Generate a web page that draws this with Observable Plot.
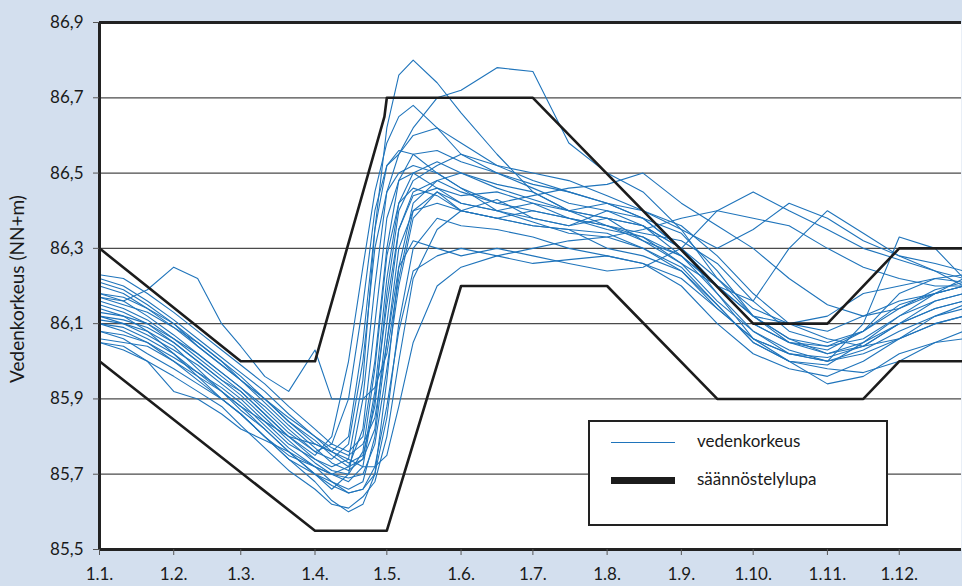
<!DOCTYPE html>
<html>
<head>
<meta charset="utf-8">
<script src="https://cdn.jsdelivr.net/npm/d3@7"></script>
<script src="https://cdn.jsdelivr.net/npm/@observablehq/plot@0.6"></script>
<style>
  body { margin: 0; background: #d3dfee; font-family: Lato, "Open Sans", sans-serif; }
  #chart { position: relative; width: 962px; height: 586px; overflow: hidden; }
  #chart svg { position: absolute; left: 0; top: 0; }
  .legend { position: absolute; left: 588px; top: 420px; width: 296px; height: 102px;
            border: 2px solid #222; background: #fff; }
  .legend .sw { position: absolute; left: 21px; width: 64px; }
  .legend .lbl { position: absolute; left: 107px; font-size: 17px; color: #1a1a1a; line-height: 20px; }
</style>
</head>
<body>
<div id="chart"></div>
<script>
// Day of year (0 = 1 January) for every reading below
const days = [0, 10, 20, 31, 41, 51, 59, 69, 79, 90, 97, 104, 110, 115, 120, 125, 131,
              141, 151, 166, 181, 196, 212, 227, 243, 258, 273, 288, 304, 319, 334, 349, 361];

// Water level (NN+m), one array per year
const s01 = [86.17, 86.16, 86.19, 86.25, 86.22, 86.10, 86.04, 85.96, 85.92, 86.03, 85.90, 85.90, 85.90, 85.93, 86.02, 86.22, 86.40, 86.45, 86.40, 86.43, 86.38, 86.36, 86.38, 86.32, 86.28, 86.20, 86.12, 86.05, 86.02, 86.05, 86.10, 86.14, 86.16];
const s02 = [86.15, 86.13, 86.10, 86.05, 86.00, 85.95, 85.92, 85.86, 85.80, 85.74, 85.72, 85.74, 85.95, 86.35, 86.62, 86.76, 86.80, 86.74, 86.66, 86.55, 86.45, 86.40, 86.42, 86.38, 86.30, 86.20, 86.10, 86.05, 86.03, 86.08, 86.15, 86.18, 86.20];
const s03 = [86.12, 86.10, 86.08, 86.04, 85.98, 85.92, 85.88, 85.82, 85.76, 85.70, 85.66, 85.70, 85.90, 86.20, 86.45, 86.55, 86.62, 86.70, 86.72, 86.78, 86.77, 86.58, 86.50, 86.45, 86.35, 86.22, 86.12, 86.06, 86.02, 86.04, 86.10, 86.16, 86.18];
const s04 = [86.08, 86.06, 86.02, 85.98, 85.94, 85.90, 85.86, 85.80, 85.74, 85.70, 85.68, 85.66, 85.68, 85.80, 86.05, 86.25, 86.32, 86.30, 86.28, 86.30, 86.28, 86.26, 86.24, 86.25, 86.30, 86.40, 86.45, 86.40, 86.35, 86.30, 86.27, 86.24, 86.22];
const s05 = [86.18, 86.16, 86.12, 86.07, 86.02, 85.97, 85.93, 85.88, 85.82, 85.76, 85.74, 85.78, 86.00, 86.30, 86.45, 86.50, 86.52, 86.50, 86.46, 86.42, 86.44, 86.46, 86.47, 86.50, 86.42, 86.36, 86.30, 86.22, 86.15, 86.12, 86.14, 86.18, 86.20];
const s06 = [86.10, 86.08, 86.05, 86.00, 85.95, 85.90, 85.86, 85.80, 85.75, 85.72, 85.70, 85.68, 85.72, 85.90, 86.15, 86.35, 86.45, 86.48, 86.50, 86.47, 86.45, 86.40, 86.38, 86.36, 86.28, 86.18, 86.08, 86.02, 86.00, 86.10, 86.33, 86.30, 86.22];
const s07 = [86.06, 86.05, 86.04, 86.00, 85.96, 85.92, 85.88, 85.84, 85.80, 85.78, 85.76, 85.74, 85.72, 85.72, 85.75, 85.88, 86.05, 86.20, 86.25, 86.28, 86.30, 86.32, 86.33, 86.35, 86.38, 86.40, 86.38, 86.36, 86.30, 86.25, 86.22, 86.20, 86.20];
const s08 = [86.20, 86.18, 86.14, 86.10, 86.04, 85.99, 85.95, 85.90, 85.84, 85.78, 85.76, 85.80, 86.05, 86.35, 86.52, 86.56, 86.55, 86.50, 86.46, 86.40, 86.38, 86.36, 86.40, 86.38, 86.30, 86.18, 86.06, 86.00, 85.94, 85.96, 86.02, 86.05, 86.06];
const s09 = [86.22, 86.20, 86.16, 86.11, 86.06, 86.01, 85.97, 85.92, 85.86, 85.80, 85.76, 85.73, 85.75, 85.88, 86.18, 86.40, 86.48, 86.52, 86.55, 86.52, 86.48, 86.45, 86.42, 86.38, 86.34, 86.24, 86.12, 86.06, 86.04, 86.06, 86.12, 86.18, 86.22];
const s10 = [86.14, 86.12, 86.08, 86.02, 85.96, 85.90, 85.86, 85.80, 85.74, 85.68, 85.63, 85.60, 85.62, 85.70, 85.95, 86.25, 86.42, 86.48, 86.45, 86.42, 86.40, 86.38, 86.36, 86.33, 86.26, 86.16, 86.08, 86.03, 86.00, 86.02, 86.06, 86.12, 86.15];
const s11 = [86.05, 86.03, 86.00, 85.96, 85.92, 85.88, 85.83, 85.77, 85.71, 85.66, 85.62, 85.61, 85.64, 85.68, 85.80, 86.00, 86.22, 86.35, 86.40, 86.38, 86.36, 86.35, 86.30, 86.28, 86.24, 86.15, 86.05, 86.00, 85.98, 85.97, 86.00, 86.05, 86.08];
const s12 = [86.16, 86.14, 86.11, 86.06, 86.01, 85.96, 85.92, 85.86, 85.80, 85.75, 85.80, 86.00, 86.25, 86.45, 86.58, 86.65, 86.68, 86.62, 86.55, 86.50, 86.46, 86.42, 86.40, 86.36, 86.30, 86.20, 86.10, 86.05, 86.04, 86.08, 86.14, 86.19, 86.21];
const s13 = [86.23, 86.22, 86.18, 86.13, 86.08, 86.03, 85.99, 85.94, 85.88, 85.82, 85.78, 85.76, 85.80, 86.00, 86.30, 86.48, 86.55, 86.56, 86.53, 86.50, 86.47, 86.45, 86.42, 86.40, 86.35, 86.30, 86.35, 86.42, 86.38, 86.32, 86.28, 86.26, 86.24];
const s14 = [86.12, 86.11, 86.09, 86.05, 86.00, 85.95, 85.91, 85.85, 85.79, 85.73, 85.70, 85.69, 85.70, 85.78, 85.98, 86.20, 86.38, 86.45, 86.42, 86.40, 86.42, 86.40, 86.38, 86.36, 86.30, 86.22, 86.14, 86.10, 86.08, 86.12, 86.16, 86.18, 86.20];
const s15 = [86.05, 86.04, 86.00, 85.92, 85.90, 85.86, 85.82, 85.79, 85.76, 85.72, 85.68, 85.65, 85.66, 85.72, 85.88, 86.08, 86.24, 86.28, 86.30, 86.28, 86.26, 86.27, 86.28, 86.26, 86.22, 86.14, 86.06, 86.02, 86.00, 86.03, 86.08, 86.12, 86.14];
const s16 = [86.18, 86.17, 86.14, 86.09, 86.04, 85.99, 85.95, 85.89, 85.83, 85.77, 85.73, 85.71, 85.74, 85.92, 86.22, 86.42, 86.50, 86.53, 86.50, 86.46, 86.43, 86.40, 86.36, 86.32, 86.26, 86.20, 86.16, 86.30, 86.40, 86.34, 86.28, 86.24, 86.20];
const s17 = [86.10, 86.09, 86.06, 86.02, 85.97, 85.93, 85.89, 85.83, 85.77, 85.72, 85.70, 85.72, 85.82, 86.10, 86.38, 86.48, 86.50, 86.46, 86.42, 86.40, 86.37, 86.34, 86.33, 86.30, 86.25, 86.15, 86.05, 86.00, 85.99, 86.05, 86.12, 86.16, 86.18];
const s18 = [86.13, 86.12, 86.10, 86.06, 86.02, 85.97, 85.93, 85.87, 85.81, 85.76, 85.78, 85.90, 86.15, 86.40, 86.52, 86.55, 86.60, 86.62, 86.58, 86.52, 86.50, 86.48, 86.44, 86.40, 86.36, 86.28, 86.18, 86.10, 86.06, 86.04, 86.06, 86.10, 86.12];
const s19 = [86.21, 86.19, 86.15, 86.10, 86.05, 86.00, 85.96, 85.90, 85.85, 85.80, 85.77, 85.75, 85.78, 85.85, 86.05, 86.30, 86.40, 86.42, 86.40, 86.38, 86.40, 86.38, 86.35, 86.33, 86.28, 86.20, 86.12, 86.10, 86.12, 86.18, 86.20, 86.22, 86.23];
const s20 = [86.08, 86.07, 86.05, 86.01, 85.97, 85.92, 85.87, 85.82, 85.76, 85.70, 85.67, 85.65, 85.66, 85.70, 85.85, 86.10, 86.30, 86.38, 86.36, 86.35, 86.33, 86.30, 86.28, 86.26, 86.20, 86.10, 86.02, 85.98, 85.96, 86.00, 86.06, 86.10, 86.12];
const s21 = [86.17, 86.15, 86.13, 86.09, 86.05, 86.00, 85.95, 85.90, 85.84, 85.79, 85.75, 85.72, 85.74, 85.82, 86.10, 86.35, 86.44, 86.46, 86.44, 86.45, 86.42, 86.38, 86.36, 86.34, 86.32, 86.26, 86.16, 86.08, 86.05, 86.08, 86.18, 86.22, 86.21];
const s22 = [86.11, 86.10, 86.07, 86.03, 85.99, 85.94, 85.90, 85.84, 85.78, 85.74, 85.71, 85.70, 85.76, 85.98, 86.28, 86.42, 86.46, 86.44, 86.40, 86.38, 86.36, 86.35, 86.34, 86.30, 86.24, 86.14, 86.06, 86.02, 86.01, 86.04, 86.10, 86.14, 86.16];
const levelSeries = [s01, s02, s03, s04, s05, s06, s07, s08, s09, s10, s11, s12, s13, s14, s15, s16, s17, s18, s19, s20, s21, s22];

// Regulation permit: upper and lower limits
const upperDays   = [0, 59, 90, 119, 120, 181, 273, 304, 334, 361];
const upperLevels = [86.3, 86.0, 86.0, 86.65, 86.7, 86.7, 86.1, 86.1, 86.3, 86.3];
const lowerDays   = [0, 90, 120, 151, 212, 258, 319, 334, 361];
const lowerLevels = [86.0, 85.55, 85.55, 86.2, 86.2, 85.9, 85.9, 86.0, 86.0];

// Axis ticks
const monthStarts = [0, 31, 59, 90, 120, 151, 181, 212, 243, 273, 304, 334];
const monthLabels = ["1.1.", "1.2.", "1.3.", "1.4.", "1.5.", "1.6.", "1.7.", "1.8.", "1.9.", "1.10.", "1.11.", "1.12."];
const yTicks = [85.5, 85.7, 85.9, 86.1, 86.3, 86.5, 86.7, 86.9];
const yTitle = "Vedenkorkeus (NN+m)";

const levelRows = levelSeries.flatMap((vals, k) => vals.map((v, i) => ({series: k, day: days[i], level: v})));
const permitRows = [
  ...upperDays.map((d, i) => ({bound: "upper", day: d, level: upperLevels[i]})),
  ...lowerDays.map((d, i) => ({bound: "lower", day: d, level: lowerLevels[i]}))
];

const chart = Plot.plot({
  width: 962,
  height: 586,
  marginLeft: 99,
  marginRight: 1,
  marginTop: 22,
  marginBottom: 37,
  style: {background: "transparent", fontFamily: "Lato, 'Open Sans', sans-serif", fontSize: "17px", color: "#1a1a1a"},
  x: {domain: [0, 360]},
  y: {domain: [85.5, 86.9]},
  marks: [
    Plot.frame({fill: "white", stroke: "none"}),
    Plot.ruleY(yTicks.slice(1, -1), {stroke: "#4a4a4a", strokeWidth: 1.2}),
    Plot.line(levelRows, {x: "day", y: "level", z: "series", stroke: "#1f74bb", strokeWidth: 1.1}),
    Plot.line(permitRows, {x: "day", y: "level", z: "bound", stroke: "#1c1c1c", strokeWidth: 2.6}),
    Plot.ruleX([0], {stroke: "#222", strokeWidth: 3}),
    Plot.ruleY([85.5, 86.9], {stroke: "#222", strokeWidth: 3}),
    Plot.axisY({
      ticks: yTicks,
      tickFormat: d => d.toFixed(1).replace(".", ","),
      tickSize: 6,
      tickPadding: 10,
      stroke: "#555",
      label: null
    }),
    Plot.text([yTitle], {
      frameAnchor: "left",
      textAnchor: "middle",
      lineAnchor: "middle",
      rotate: -90,
      dx: -82,
      dy: 3,
      fontSize: 19,
      fill: "#1a1a1a"
    }),
    Plot.axisX({
      ticks: monthStarts,
      tickFormat: d => monthLabels[monthStarts.indexOf(d)],
      tickSize: 6,
      tickPadding: 12,
      stroke: "#555",
      label: null
    })
  ]
});

const host = document.getElementById("chart");
host.appendChild(chart);

// Legend box
const legend = document.createElement("div");
legend.className = "legend";
legend.innerHTML = `
  <div class="sw" style="top:20px;height:0;border-top:1.5px solid #1f74bb"></div>
  <div class="lbl" style="top:9px">vedenkorkeus</div>
  <div class="sw" style="top:55px;height:7px;background:#1c1c1c"></div>
  <div class="lbl" style="top:47px">säännöstelylupa</div>`;
host.appendChild(legend);
</script>
</body>
</html>
